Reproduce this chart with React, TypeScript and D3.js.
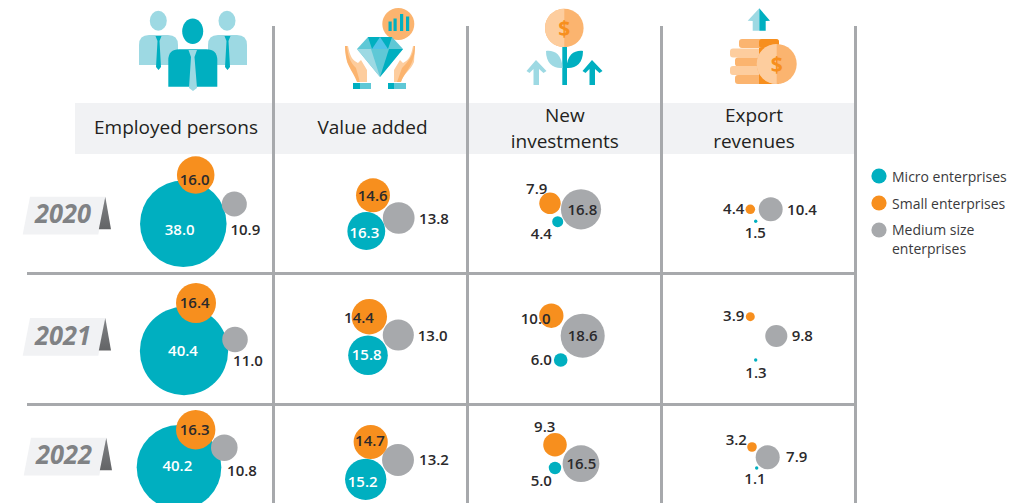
import React from "react";
import * as d3 from "d3";

const metrics = ["Employed persons", "Value added", "New investments", "Export revenues"];
const years = ["2020", "2021", "2022"];
const seriesNames = ["Micro enterprises", "Small enterprises", "Medium size enterprises"];

const microValues = [[38.0, 40.4, 40.2], [16.3, 15.8, 15.2], [4.4, 6.0, 5.0], [1.5, 1.3, 1.1]];
const smallValues = [[16.0, 16.4, 16.3], [14.6, 14.4, 14.7], [7.9, 10.0, 9.3], [4.4, 3.9, 3.2]];
const mediumValues = [[10.9, 11.0, 10.8], [13.8, 13.0, 13.2], [16.8, 18.6, 16.5], [10.4, 9.8, 7.9]];

const TEAL = "#00afc0";
const ORANGE = "#f78f1e";
const GREY = "#a7a9ac";
const LTEAL = "#9dd9e3";
const LOR = "#fdcd9e";
const MOR = "#fbb46f";
const FONT = "'Open Sans', sans-serif";

// layout: [metric][year][series: micro, small, medium] = [dx, dy, size tweak, label dx, label dy]
const layout = [
  [
    [[7.3, 15.7, 0.99, 3.7, 22], [19.7, -33, 1.02, 18.7, -28], [58.3, -4, 1.0, 69.3, 22]],
    [[8, 12, 0.95, 7, 12], [20, -36, 1.06, 18.7, -36.3], [59, 0.5, 1.01, 72, 22]],
    [[3, -2.7, 0.915, 1.3, -4], [19.7, -40.3, 1.05, 18.7, -40.7], [48.3, -22.3, 1.07, 66, 1]],
  ],
  [
    [[-3.7, 23, 1.01, -5.7, 24.7], [3, -12.7, 1.01, 2.7, -12], [28.7, 10, 1.0, 64, 11]],
    [[-2, 16.3, 1.09, -3.3, 16], [-0.7, -22.3, 1.07, -11, -21.3], [28.3, -4, 1.04, 62.7, -3.3]],
    [[-4.3, 9.3, 1.18, -7.3, 11.7], [0.7, -28, 1.01, 0, -29], [28, -10, 1.05, 64, -10]],
  ],
  [
    [[-6.3, 13.7, 1.09, -22.7, 26], [-14, -4.7, 1.18, -27.3, -19], [17, 1.3, 1.04, 18.3, 2]],
    [[-3.3, 21, 0.99, -22.7, 21], [-12.7, -23.3, 1.06, -28.3, -20.7], [18.7, -3.3, 1.03, 18.7, -3]],
    [[-9, -2, 1.08, -22.7, 10.3], [-9, -25.3, 1.1, -19.3, -43.3], [17, -6.3, 0.97, 17.3, -6]],
  ],
  [
    [[-2.3, 13.3, 0.98, -2.7, 25], [-7.7, 1.3, 0.95, -24.3, 0.3], [12.7, 1.3, 1.0, 44, 1.3]],
    [[-2.3, 21, 1.13, -2, 34], [-7.7, -22.3, 1.0, -24.3, -23.3], [18.3, -3, 0.98, 44.3, -3]],
    [[-1.3, -2, 1.34, -3, 9], [-6, -23, 1.3, -21.7, -30], [9.7, -12.7, 1.32, 38.7, -13]],
  ],
];

const xBand = d3.scaleBand<string>().domain(metrics).range([79.5, 855.5]);
const yBand = d3.scaleBand<string>().domain(years).range([142.5, 535.5]);
const rScale = d3.scaleLinear().domain([0, 40]).range([0, 46]);
const seriesColor = d3.scaleOrdinal<string, string>().domain(seriesNames).range([TEAL, ORANGE, GREY]);
const valueSets = [microValues, smallValues, mediumValues];

function People() {
  const suit = (x: number, y: number, w: number, h: number, rad: number) =>
    `M${x},${y + h}V${y + rad}Q${x},${y} ${x + rad},${y}H${x + w - rad}Q${x + w},${y} ${x + w},${y + rad}V${y + h}Z`;
  return (
    <g>
      <ellipse cx={158.3} cy={20.7} rx={8.5} ry={10} fill={LTEAL} />
      <ellipse cx={227} cy={20.7} rx={8.5} ry={10} fill={LTEAL} />
      <path d={suit(139, 35, 39, 30, 10)} fill={LTEAL} />
      <path d={suit(208, 35, 39, 30, 10)} fill={LTEAL} />
      <path d="M155.5,36H161.5L159.5,41L161,67L158.5,70L156,67L157.5,41Z" fill={TEAL} />
      <path d="M224.5,36H230.5L228.5,41L230,67L227.5,70L225,67L226.5,41Z" fill={TEAL} />
      <ellipse cx={192.7} cy={31.3} rx={10.5} ry={12.7} fill={TEAL} />
      <path d={suit(168.3, 49.3, 49, 37.5, 11)} fill={TEAL} />
      <path d="M188.5,50H197L194.5,57L197,88L193,91L189,88L191,57Z" fill={LTEAL} />
    </g>
  );
}

function Diamond() {
  return (
    <g>
      <circle cx={398.3} cy={24} r={16} fill={MOR} />
      {[[388.5, 21.5], [393.5, 18.5], [400, 14], [406, 16.5]].map(([x, y], i) => (
        <rect key={i} x={x} y={y} width={3.2} height={31 - y} fill={TEAL} />
      ))}
      <path d="M357,49L368,37H392L403,49L380,77Z" fill="#5fc8d6" />
      <path d="M357,49H371L380,77Z" fill={LTEAL} />
      <path d="M389,49H403L380,77Z" fill={TEAL} />
      <path d="M372,49L380,37L388,49Z" fill="#4fc3e8" />
      <path d="M368,37H380L372,49Z" fill={TEAL} />
      <path d="M380,37H392L388,49Z" fill={TEAL} />
      <path d="M345,46L348,46C350,56 352,60 358,63L361,60L367,70V82H360C358,74 350,70 347,62Z" fill={LOR} />
      <path d="M415,46L413,46C411,56 409,60 403,63L400,60L394,70V82H401C403,74 411,70 414,62Z" fill={LOR} />
      <path d="M345,46L347,46C348,56 350,62 356,68L360,82H357C354,72 345,66 345,46Z" fill={MOR} />
      <path d="M415,46L414,46C413,56 408,62 402,68L397,82H401C404,72 415,66 415,46Z" fill={MOR} />
      <rect x={353} y={83} width={18} height={6} fill="#5fc8d6" />
      <rect x={353} y={83} width={7} height={6} fill={TEAL} />
      <rect x={388} y={83} width={18} height={6} fill="#5fc8d6" />
      <rect x={388} y={83} width={6} height={6} fill={TEAL} />
    </g>
  );
}

function Plant() {
  return (
    <g>
      <circle cx={564.3} cy={28} r={19.3} fill={MOR} />
      <path d="M564.3,8.7A19.3,19.3 0 0 0 564.3,47.3Z" fill={LOR} />
      <text x={564.3} y={35.5} textAnchor="middle" fontFamily={FONT} fontWeight={700} fontSize={21} fill={ORANGE}>$</text>
      <rect x={562.3} y={47} width={4.7} height={38} fill={TEAL} />
      <path d="M546,51C554,50 562,54 562.5,68C554,69 546,64 546,51Z" fill={LTEAL} />
      <path d="M583,51C575,50 567,54 566.5,68C575,69 583,64 583,51Z" fill={TEAL} />
      <path d="M536,60L546.5,71L543.5,73L539,69V85H533.5V69L529.5,73L526.5,71Z" fill={LTEAL} />
      <path d="M592,60L602.5,71L599.5,73L595,69V85H589.5V69L585.5,73L582.5,71Z" fill={TEAL} />
    </g>
  );
}

function Coins() {
  return (
    <g>
      <path d="M759.3,8.3L747.7,20.7L752.7,21V30.7H759.3Z" fill={LTEAL} />
      <path d="M759.3,8.3L770,20.7L765.7,21V30.7H759.3Z" fill={TEAL} />
      <rect x={739} y={39} width={40} height={9} rx={3} fill={MOR} />
      <rect x={759} y={39} width={20} height={9} rx={3} fill={ORANGE} />
      <rect x={730} y={48.5} width={40} height={9} rx={3} fill={LOR} />
      <rect x={735} y={57.5} width={40} height={9} rx={3} fill={MOR} />
      <rect x={730} y={66} width={40} height={9} rx={3} fill={LOR} />
      <rect x={735} y={75} width={40} height={9} rx={3} fill={MOR} />
      <rect x={759} y={48} width={20} height={36} fill={ORANGE} />
      <circle cx={776.7} cy={64} r={20} fill={MOR} />
      <path d="M776.7,44A20,20 0 0 0 776.7,84Z" fill={LOR} />
      <text x={776.7} y={71.5} textAnchor="middle" fontFamily={FONT} fontWeight={700} fontSize={21} fill={ORANGE}>$</text>
    </g>
  );
}

function YearTag({ year, dx, y }: { year: string; dx: number; y: number }) {
  const pts = [[30, 0], [105.7, 0], [98.3, 37.8], [22.7, 37.8]].map(([a, b]) => `${a + dx},${b + y}`).join(" ");
  const tri = [[105.3, 0], [111, 32.6], [98.8, 32.6]].map(([a, b]) => `${a + dx},${b + y}`).join(" ");
  return (
    <g>
      <polygon points={pts} fill="#f1f2f4" />
      <polygon points={tri} fill="url(#tri)" />
      <text x={63 + dx} y={y + 26.5} textAnchor="middle" fontFamily={FONT} fontStyle="italic" fontWeight={700} fontSize={26} textLength={56} lengthAdjust="spacingAndGlyphs" fill="#808285">{year}</text>
    </g>
  );
}

export default function App() {
  const headerLines = ["Employed persons", "Value added", "New|investments", "Export|revenues"];
  const headerCx = [176, 372.5, 564.8, 754];
  const tagY = [196.7, 318, 437.7];
  const tagDx = [0, 0, 1];
  return (
    <svg width={1028} height={503} style={{ position: "absolute", left: 0, top: 0, background: "#fff" }}>
      <defs>
        <linearGradient id="tri" x1="0" y1="0" x2="0" y2="1">
          <stop offset="0" stopColor="#808285" />
          <stop offset="1" stopColor="#636466" />
        </linearGradient>
      </defs>
      <rect x={75} y={103} width={780} height={51} fill="#f1f2f4" />
      {metrics.map((m) => (
        <line key={m} x1={xBand(m)! + xBand.bandwidth()} x2={xBand(m)! + xBand.bandwidth()} y1={26} y2={503} stroke={GREY} strokeWidth={3} />
      ))}
      {years.slice(0, 2).map((y) => (
        <line key={y} x1={27} x2={857} y1={yBand(y)! + yBand.bandwidth()} y2={yBand(y)! + yBand.bandwidth()} stroke={GREY} strokeWidth={3} />
      ))}
      <People />
      <Diamond />
      <Plant />
      <Coins />
      {headerLines.map((h, i) => {
        const parts = h.split("|");
        return parts.map((p, j) => (
          <text key={p} x={headerCx[i]} y={parts.length === 1 ? 134 : 122 + j * 26} textAnchor="middle" fontFamily={FONT} fontSize={19} fill="#231f20">{p}</text>
        ));
      })}
      {years.map((y, yi) => <YearTag key={y} year={y} dx={tagDx[yi]} y={tagY[yi]} />)}
      {metrics.map((m, mi) => {
        const cx = xBand(m)! + xBand.bandwidth() / 2 - 0.5;
        return years.map((y, yi) => {
          const cy = yBand(y)! + yBand.bandwidth() / 2;
          const order = mi === 0 ? [0, 2, 1] : [2, 0, 1];
          return (
            <g key={y}>
              {order.map((s) => {
                const [dx, dy, k] = layout[mi][yi][s];
                return <circle key={s} cx={cx + dx} cy={cy + dy} r={rScale(valueSets[s][mi][yi]) * k} fill={seriesColor(seriesNames[s])} />;
              })}
              {order.map((s) => {
                const [, , , lx, ly] = layout[mi][yi][s];
                const isWhite = s === 0 && mi < 2;
                return (
                  <text key={s} x={cx + lx} y={cy + ly} dy="0.36em" textAnchor="middle" fontFamily={FONT} fontWeight={600} fontSize={15} fill={isWhite ? "#fff" : "#2b2a2c"}>
                    {valueSets[s][mi][yi].toFixed(1)}
                  </text>
                );
              })}
            </g>
          );
        });
      })}
      {seriesNames.map((s, i) => (
        <circle key={s} cx={879} cy={176 + 27 * i} r={7.6} fill={seriesColor(s)} />
      ))}
      <text x={892} y={182} fontFamily={FONT} fontSize={14} fill="#3a3a3c">Micro enterprises</text>
      <text x={892} y={209} fontFamily={FONT} fontSize={14} fill="#3a3a3c">Small enterprises</text>
      <text x={892} y={235} fontFamily={FONT} fontSize={14} fill="#3a3a3c">Medium size</text>
      <text x={892} y={254} fontFamily={FONT} fontSize={14} fill="#3a3a3c">enterprises</text>
    </svg>
  );
}
